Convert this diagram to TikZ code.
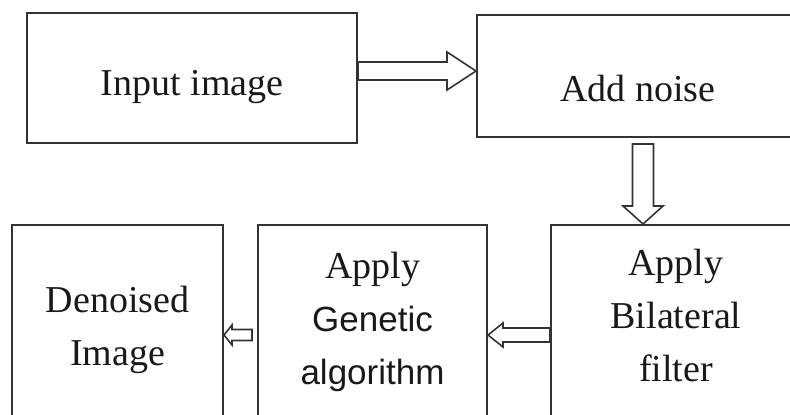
\documentclass[tikz,border=0pt]{standalone}
\usepackage{fontspec}
\setmainfont{Liberation Serif}
\newfontfamily\sansf{Liberation Sans}
\usetikzlibrary{calc}
\newcommand\hblock[5]{\draw[arr] ($(#1)+(0,-#3)$) -- ($(#2)+(#5,-#3)$) -- ($(#2)+(#5,-#4)$) -- (#2) -- ($(#2)+(#5,#4)$) -- ($(#2)+(#5,#3)$) -- ($(#1)+(0,#3)$) -- cycle;}
\newcommand\vblock[5]{\draw[arr] ($(#1)+(-#3,0)$) -- ($(#2)+(-#3,#5)$) -- ($(#2)+(-#4,#5)$) -- (#2) -- ($(#2)+(#4,#5)$) -- ($(#2)+(#3,#5)$) -- ($(#1)+(#3,0)$) -- cycle;}
\begin{document}
\begin{tikzpicture}[x=1pt,y=-1pt,
  box/.style={draw=black!80,line width=2pt,rectangle,inner sep=0pt},
  lbl/.style={align=center,inner sep=0pt,font=\fontsize{38}{53}\selectfont,text=black!90},
  arr/.style={draw=black!80,line width=1.6pt,fill=white,line join=miter}]
\useasboundingbox (0,0) rectangle (790,415);
\clip (0,0) rectangle (790,415);
\node[box,minimum width=330pt,minimum height=130pt,
  label={[lbl,yshift=-9pt]center:Input image}] (in) at (192,78) {};
\node[box,minimum width=373pt,minimum height=122pt,
  label={[lbl,xshift=-25.5pt,yshift=-13pt]center:Add noise}] (noise) at (663.5,76) {};
\node[box,minimum width=211pt,minimum height=225pt,
  label={[lbl,yshift=7.5pt]center:Denoised\\Image}] (den) at (117.5,337.5) {};
\node[box,minimum width=229pt,minimum height=225pt,
  label={[lbl,yshift=16pt]center:Apply\\{\sansf\fontsize{35}{53}\selectfont Genetic}\\{\sansf\fontsize{35}{53}\selectfont algorithm}}] (ga) at (372.5,337.5) {};
\node[box,minimum width=299pt,minimum height=225pt,
  label={[lbl,xshift=-24.5pt,yshift=22.5pt]center:Apply\\Bilateral\\filter}] (bil) at (700.5,337.5) {};
% connectors
\path ($(in.east)+(0,-7)$) coordinate (a1s) (noise.west |- a1s) coordinate (a1e);
\hblock{a1s}{a1e}{9}{19}{-29}
\path ($(noise.south)+(-20.5,6)$) coordinate (a2s) (a2s |- bil.north) coordinate (a2e);
\vblock{a2s}{a2e}{10.5}{20}{-18}
\path ($(bil.west)+(0,-2.5)$) coordinate (a3s) (ga.east |- a3s) coordinate (a3e);
\hblock{a3s}{a3e}{7}{12}{15}
\path ($(ga.west |- a3s)+(-5,0)$) coordinate (a4s) (den.east |- a3s) coordinate (a4e);
\hblock{a4s}{a4e}{5.5}{10}{8}
\end{tikzpicture}
\end{document}
